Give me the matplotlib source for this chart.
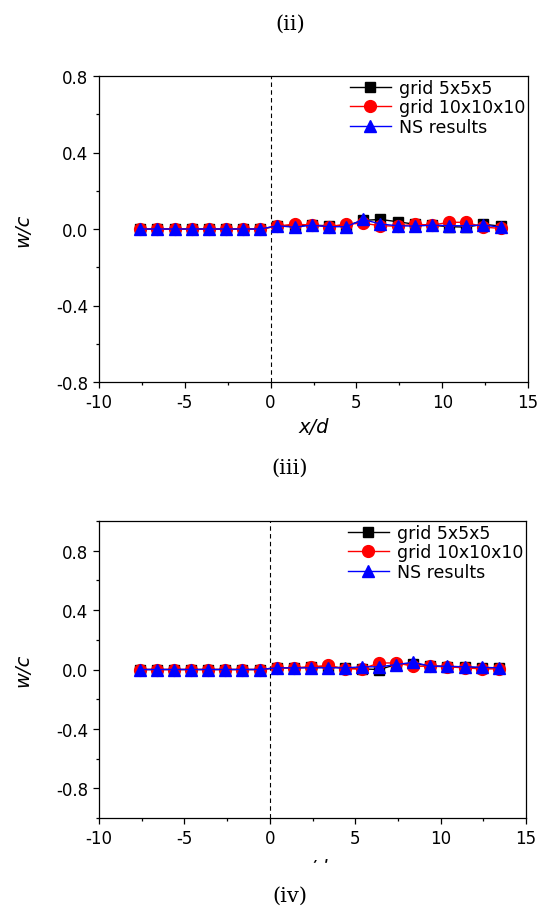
import matplotlib
matplotlib.use("Agg")
import matplotlib.pyplot as plt
from matplotlib.patches import Rectangle
from matplotlib.ticker import MultipleLocator

plt.rcParams['font.family'] = 'DejaVu Sans'
plt.rcParams['axes.unicode_minus'] = False

# x/d positions (same for every series)
x_d = [-7.6, -6.6, -5.6, -4.6, -3.6, -2.6, -1.6, -0.6,
       0.4, 1.4, 2.4, 3.4, 4.4, 5.4, 6.4, 7.4, 8.4, 9.4, 10.4, 11.4, 12.4, 13.4]

# upper panel w/c
top_grid5 = [0, 0, 0, 0, 0, 0, 0, 0,
             0.015, 0.017, 0.020, 0.017, 0.017, 0.045, 0.050, 0.038, 0.025, 0.020, 0.012, 0.010, 0.025, 0.015]
top_grid10 = [0, 0, 0, 0, 0, 0, 0, 0,
              0.015, 0.026, 0.020, 0.012, 0.026, 0.030, 0.017, 0.015, 0.025, 0.020, 0.035, 0.035, 0.010, 0.003]
top_ns = [0, 0, 0, 0, 0, 0, 0, 0,
          0.017, 0.009, 0.020, 0.012, 0.012, 0.050, 0.026, 0.017, 0.015, 0.020, 0.017, 0.017, 0.020, 0.010]

# lower panel w/c
bot_grid5 = [0, 0, 0, 0, 0, 0, 0, 0,
             0.011, 0.011, 0.015, 0.018, 0.011, 0.004, 0.000, 0.033, 0.040, 0.025, 0.020, 0.018, 0.011, 0.011]
bot_grid10 = [0, 0, 0, 0, 0, 0, 0, 0,
              0.011, 0.011, 0.018, 0.027, 0.004, 0.004, 0.044, 0.044, 0.022, 0.022, 0.018, 0.011, 0.004, 0.004]
bot_ns = [0, 0, 0, 0, 0, 0, 0, 0,
          0.011, 0.011, 0.011, 0.011, 0.011, 0.018, 0.018, 0.033, 0.049, 0.022, 0.022, 0.018, 0.015, 0.011]

labels = ["grid 5x5x5", "grid 10x10x10", "NS results"]

fig = plt.figure(figsize=(5.47, 9.12), dpi=100)

def panel(rect, g5, g10, ns, ylim, label_y):
    ax = fig.add_axes(rect)
    ax.plot(x_d, g5, '-s', color='black', lw=1.0, ms=7, label=labels[0])
    ax.plot(x_d, g10, '-o', color='red', lw=1.0, ms=8.5, label=labels[1])
    ax.plot(x_d, ns, '-^', color='blue', lw=1.0, ms=8.5, label=labels[2])
    ax.axvline(0, color='black', lw=0.8, ls=(0, (4, 3)), zorder=1)
    ax.set_xlim(-10, 15)
    ax.set_ylim(*ylim)
    ax.xaxis.set_major_locator(MultipleLocator(5))
    ax.xaxis.set_minor_locator(MultipleLocator(2.5))
    ax.yaxis.set_major_locator(MultipleLocator(0.4))
    ax.yaxis.set_minor_locator(MultipleLocator(0.2))
    ax.yaxis.set_major_formatter(plt.FuncFormatter(lambda v, p: f"{v:.1f}"))
    ax.tick_params(which='both', top=False, right=False, direction='out',
                   labelsize=12, width=0.9)
    ax.tick_params(which='major', length=4.5)
    ax.tick_params(which='minor', length=2.5)
    for s in ax.spines.values():
        s.set_linewidth(0.9)
    ax.set_xlabel("x/d", fontsize=14, style='italic', va='top')
    ax.xaxis.set_label_coords(0.5, label_y)
    ax.set_ylabel("w/c", fontsize=14, style='italic')
    ax.yaxis.set_label_coords(-0.155, 0.5)
    ax.legend(loc='upper right', bbox_to_anchor=(1.0, 1.0), frameon=False,
              fontsize=12.5, handlelength=2.4, handletextpad=0.45,
              labelspacing=0.1, borderpad=0.15, borderaxespad=0.0)
    return ax

ax1 = panel([99 / 547, 1 - 383 / 912, 429 / 547, 306 / 912],
            top_grid5, top_grid10, top_ns, (-0.8, 0.8), -0.114)
ax2 = panel([99 / 547, 1 - 819 / 912, 427 / 547, 297 / 912],
            bot_grid5, bot_grid10, bot_ns, (-1.0, 1.0), -0.135)

# the lower x label is partly hidden under the caption in the source
fig.patches.append(Rectangle((0.40, 1 - 880 / 912), 0.25, 16 / 912,
                             transform=fig.transFigure, color='white', zorder=10))

for txt, ypix in [("(ii)", 24), ("(iii)", 468), ("(iv)", 896)]:
    fig.text(290 / 547, 1 - ypix / 912, txt, ha='center', va='center',
             fontsize=15, family='DejaVu Serif', zorder=11)

fig.savefig("out.png", dpi=100)
